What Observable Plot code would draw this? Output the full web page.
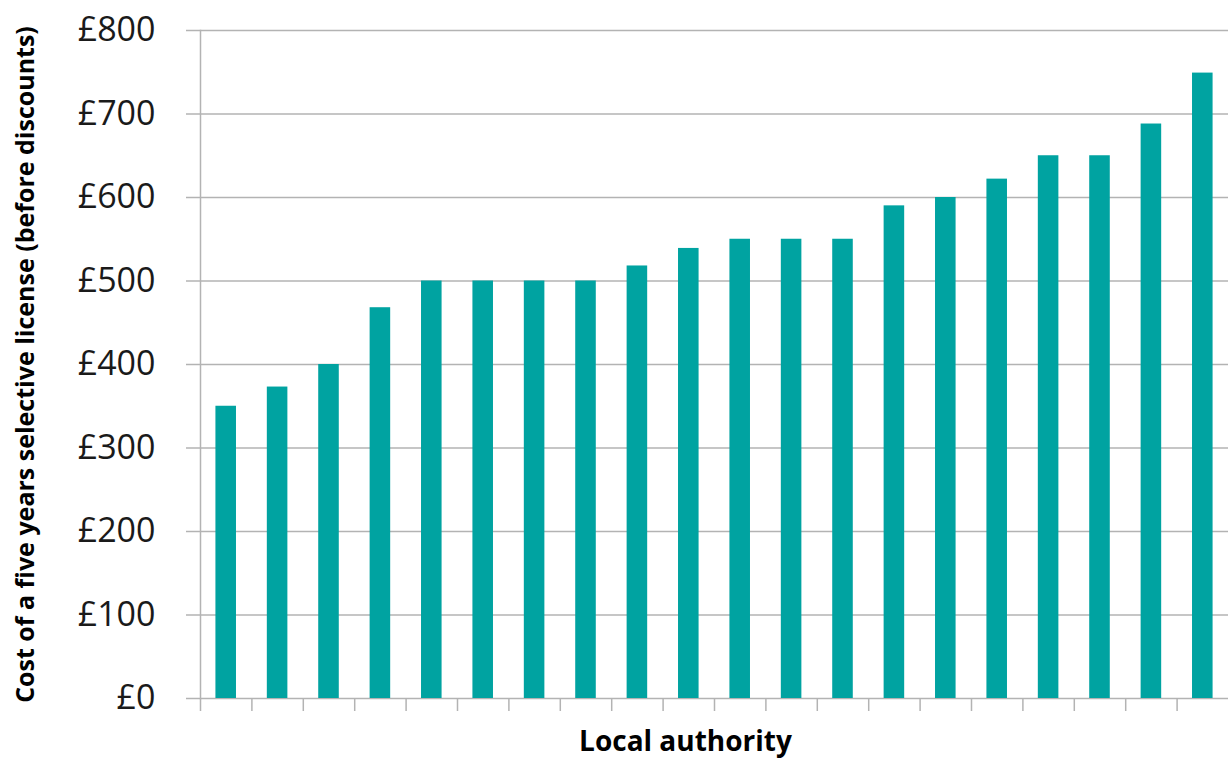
<!DOCTYPE html>
<html>
<head>
<meta charset="utf-8">
<script src="https://cdn.jsdelivr.net/npm/d3@7"></script>
<script src="https://cdn.jsdelivr.net/npm/@observablehq/plot@0.6"></script>
<style>
  html, body { margin: 0; padding: 0; background: #fff; }
  #chart svg { display: block; }
</style>
</head>
<body>
<div id="chart"></div>
<script>
const authorities = d3.range(1, 21).map(i => "LA " + i);
const costs = [350, 373, 400, 468, 500, 500, 500, 500, 518, 539, 550, 550, 550, 590, 600, 622, 650, 650, 688, 749];
const yTicks = [0, 100, 200, 300, 400, 500, 600, 700, 800];
const yLabel = "Cost of a five years selective license (before discounts)";
const xLabel = "Local authority";

const data = authorities.map((a, i) => ({authority: a, cost: costs[i]}));

const W = 1228, H = 758, mL = 200, mR = 0, mT = 30, mB = 60;
const step = (W - mL - mR) / authorities.length;
const gray = "#b3b3b3";
const font = "'Open Sans', sans-serif";

const chart = Plot.plot({
  width: W,
  height: H,
  marginLeft: mL,
  marginRight: mR,
  marginTop: mT,
  marginBottom: mB,
  style: {fontFamily: font, background: "#fff", color: "#000"},
  x: {type: "band", domain: authorities, paddingInner: 0.6, paddingOuter: 0.3, round: false, axis: null},
  y: {domain: [0, 800], axis: null},
  marks: [
    Plot.gridY(yTicks, {stroke: gray, strokeOpacity: 1, strokeWidth: 1.5}),
    Plot.axisY(yTicks, {
      tickSize: 14, tickPadding: 31, stroke: gray, strokeWidth: 1.5,
      tickFormat: d => "£" + d, fontSize: 34, fill: "#1a1a1a", label: null
    }),
    Plot.axisX(authorities, {
      tickSize: 13, tickFormat: () => "", dx: -step / 2, stroke: gray, strokeWidth: 1.5, label: null
    }),
    Plot.frame({anchor: "left", stroke: gray, strokeWidth: 1.5}),
    Plot.barY(data, {x: "authority", y: "cost", fill: "#00a3a1"}),
    Plot.text([xLabel], {frameAnchor: "bottom", dy: 52, dx: -29, fontSize: 28, fontWeight: "bold", fill: "#000"}),
    Plot.text([yLabel], {frameAnchor: "left", textAnchor: "middle", rotate: -90, dx: -175, fontSize: 25, fontWeight: "bold", fill: "#000"})
  ]
});
document.getElementById("chart").appendChild(chart);
</script>
</body>
</html>
